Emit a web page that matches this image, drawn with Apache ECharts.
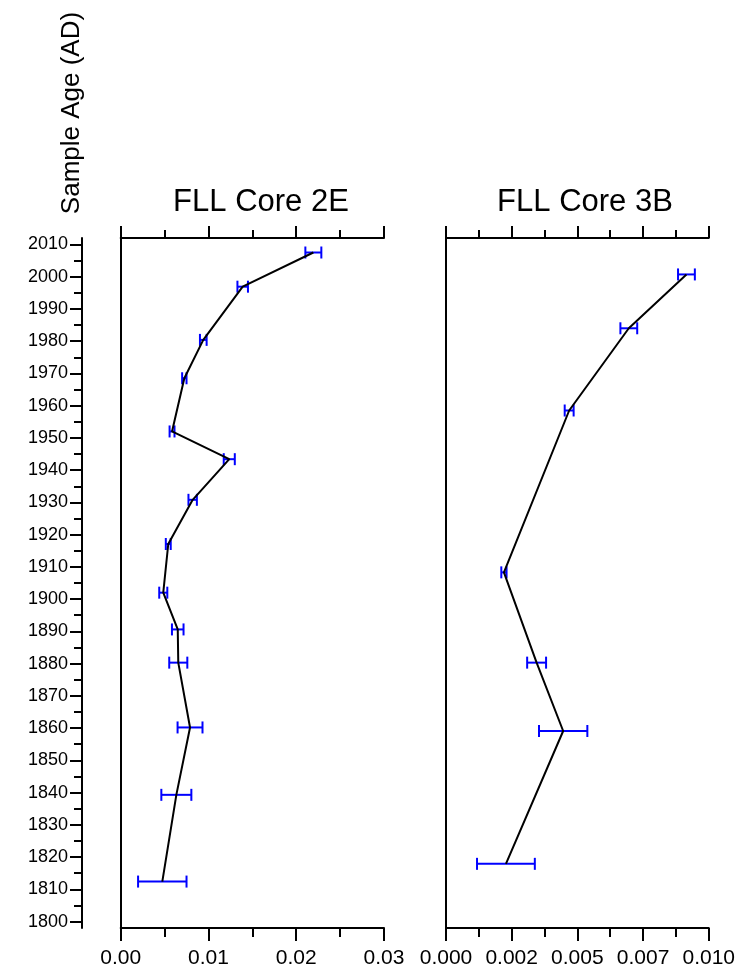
<!DOCTYPE html>
<html>
<head>
<meta charset="utf-8">
<script src="https://cdn.jsdelivr.net/npm/echarts@6/dist/echarts.min.js"></script>
<style>html,body{margin:0;padding:0;background:#fff}#c{width:738px;height:970px}</style>
</head>
<body>
<div id="c"></div>
<script>
// ---- data ----
const core2E_years  = [2007.5, 1996.9, 1980.4, 1968.5, 1952.0, 1943.4, 1930.8, 1917.1, 1902.0, 1890.6, 1880.3, 1860.2, 1839.3, 1812.4];
const core2E_values = [0.02195, 0.01390, 0.00941, 0.00725, 0.00585, 0.01237, 0.00820, 0.00542, 0.00485, 0.00650, 0.00656, 0.00790, 0.00634, 0.00474];
const core2E_errors = [0.00091, 0.00060, 0.00038, 0.00025, 0.00028, 0.00063, 0.00048, 0.00028, 0.00046, 0.00066, 0.00103, 0.00142, 0.00171, 0.00276];

const core3B_years  = [2000.7, 1984.0, 1958.5, 1908.3, 1880.3, 1859.1, 1817.9];
const core3B_values = [0.009152, 0.006958, 0.004688, 0.002205, 0.003449, 0.004460, 0.002281];
const core3B_errors = [0.00032, 0.00032, 0.00017, 0.00010, 0.00036, 0.00092, 0.00110];

const core2E_tickLabels = ['0.00', '0.01', '0.02', '0.03'];
const core3B_tickLabels = ['0.000', '0.002', '0.005', '0.007', '0.010'];
const titles = ['FLL Core 2E', 'FLL Core 3B'];
const yAxisTitle = 'Sample Age (AD)';

// ---- chart ----
const FONT = 'Liberation Sans, Arial, sans-serif';
const chart = echarts.init(document.getElementById('c'), null, {renderer: 'canvas'});

function lineData(vals, years) { return vals.map((v, i) => [v, years[i]]); }
function errData(vals, years, errs) { return vals.map((v, i) => [v, years[i], v - errs[i], v + errs[i]]); }

function errRender(params, api) {
  const y = api.value(1);
  const p1 = api.coord([api.value(2), y]);
  const p2 = api.coord([api.value(3), y]);
  const h = 6;
  const st = {stroke: '#0000ff', lineWidth: 2};
  return {
    type: 'group',
    children: [
      {type: 'line', shape: {x1: p1[0], y1: p1[1], x2: p2[0], y2: p2[1]}, style: st},
      {type: 'line', shape: {x1: p1[0], y1: p1[1] - h, x2: p1[0], y2: p1[1] + h}, style: st},
      {type: 'line', shape: {x1: p2[0], y1: p2[1] - h, x2: p2[0], y2: p2[1] + h}, style: st}
    ]
  };
}

const axisLineStyle = {lineStyle: {color: '#000', width: 2}};
function xAxisPair(gridIndex, max, interval, labels) {
  const bottom = {
    type: 'value', gridIndex, position: 'bottom', min: 0, max, interval,
    axisLine: Object.assign({onZero: false}, axisLineStyle),
    axisTick: {show: true, length: 13, lineStyle: {color: '#000', width: 2}},
    minorTick: {show: true, splitNumber: 2, length: 9, lineStyle: {color: '#000', width: 2}},
    splitLine: {show: false},
    axisLabel: {
      show: true, margin: 20, color: '#000', fontFamily: FONT, fontSize: 21,
      formatter: (v) => labels[Math.round(v / interval)],
      showMinLabel: true, showMaxLabel: true, hideOverlap: false
    }
  };
  const top = {
    type: 'value', gridIndex, position: 'top', min: 0, max, interval,
    axisLine: Object.assign({onZero: false}, axisLineStyle),
    axisTick: {show: true, length: 12, lineStyle: {color: '#000', width: 2}},
    minorTick: {show: true, splitNumber: 2, length: 8, lineStyle: {color: '#000', width: 2}},
    splitLine: {show: false},
    axisLabel: {show: false}
  };
  return [bottom, top];
}

const frameY = (gridIndex) => ({
  type: 'value', gridIndex, min: 1798, max: 2012, position: 'left',
  axisLine: Object.assign({onZero: false}, axisLineStyle),
  axisTick: {show: false}, axisLabel: {show: false}, splitLine: {show: false}
});

const option = {
  backgroundColor: '#fff',
  animation: false,
  title: [
    {text: titles[0], left: 256, top: 182, textAlign: 'center',
     textStyle: {fontFamily: FONT, fontSize: 31, fontWeight: 'normal', color: '#000'}},
    {text: titles[1], left: 580, top: 182, textAlign: 'center',
     textStyle: {fontFamily: FONT, fontSize: 31, fontWeight: 'normal', color: '#000'}}
  ],
  graphic: [
    {type: 'text', x: 72, y: 113, rotation: Math.PI / 2,
     style: {text: yAxisTitle, fill: '#000', font: '26px ' + FONT, textAlign: 'center', textVerticalAlign: 'middle'}}
  ],
  grid: [
    {left: 120.7, top: 238, width: 263.3, height: 690},
    {left: 446, top: 238, width: 263, height: 690},
    {left: 82, top: 238, width: 1, height: 690},
    {left: 82, top: 238 + 2 * 690 / 214, width: 1, height: 210 * 690 / 214}
  ],
  xAxis: [
    ...xAxisPair(0, 0.03, 0.01, core2E_tickLabels),
    ...xAxisPair(1, 0.01, 0.0025, core3B_tickLabels),
    {type: 'value', gridIndex: 2, show: false, min: 0, max: 1},
    {type: 'value', gridIndex: 3, show: false, min: 0, max: 1}
  ],
  yAxis: [
    frameY(0),
    frameY(1),
    frameY(2),
    {
      type: 'value', gridIndex: 3, min: 1800, max: 2010, interval: 10, position: 'left',
      axisLine: {show: false},
      axisTick: {show: true, length: 12, lineStyle: {color: '#000', width: 2}},
      minorTick: {show: true, splitNumber: 2, length: 8, lineStyle: {color: '#000', width: 2}},
      splitLine: {show: false},
      axisLabel: {show: true, margin: 14, color: '#000', fontFamily: FONT, fontSize: 18,
                  formatter: (v) => String(v),
                  showMinLabel: true, showMaxLabel: true, hideOverlap: false}
    }
  ],
  series: [
    {type: 'custom', xAxisIndex: 0, yAxisIndex: 0, renderItem: errRender,
     data: errData(core2E_values, core2E_years, core2E_errors), z: 2, clip: false},
    {type: 'line', xAxisIndex: 0, yAxisIndex: 0, data: lineData(core2E_values, core2E_years),
     symbol: 'none', lineStyle: {color: '#000', width: 2}, z: 3},
    {type: 'custom', xAxisIndex: 2, yAxisIndex: 1, renderItem: errRender,
     data: errData(core3B_values, core3B_years, core3B_errors), z: 2, clip: false},
    {type: 'line', xAxisIndex: 2, yAxisIndex: 1, data: lineData(core3B_values, core3B_years),
     symbol: 'none', lineStyle: {color: '#000', width: 2}, z: 3}
  ]
};
chart.setOption(option);
</script>
</body>
</html>
